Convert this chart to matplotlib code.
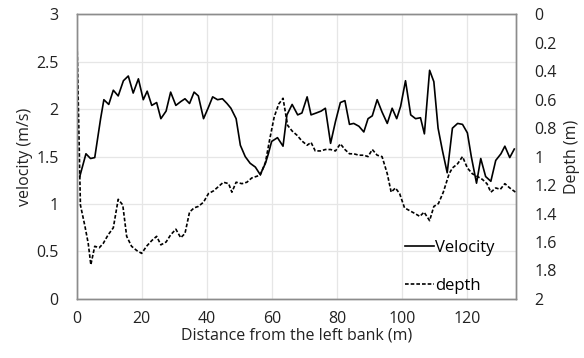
import matplotlib
matplotlib.use("Agg")
import matplotlib.pyplot as plt
from matplotlib.lines import Line2D

plt.rcParams['font.family'] = ['Open Sans', 'DejaVu Sans']

# Velocity profile across the section
vel_dist = [1.0, 2.9, 4.3, 5.6, 7.4, 8.4, 9.9, 11.3, 12.8, 14.4, 15.9, 17.4, 19.0,
            20.5, 21.7, 23.1, 24.6, 25.9, 27.5, 28.9, 30.5, 32.0, 33.3, 34.7, 36.1,
            37.4, 39.0, 40.5, 41.8, 43.3, 44.8, 46.2, 47.4, 49.0, 50.3, 51.8, 53.3,
            54.9, 56.4, 58.0, 58.9, 59.9, 61.7, 63.4, 64.6, 66.2, 67.9, 69.2, 70.8,
            72.0, 73.6, 75.1, 76.4, 78.0, 79.5, 81.0, 82.4, 83.8, 85.1, 86.7, 88.2,
            89.5, 90.8, 92.3, 93.8, 95.4, 96.9, 98.3, 99.5, 101.0, 102.6, 104.1,
            105.6, 106.8, 108.4, 109.7, 111.0, 112.3, 113.8, 115.4, 117.0, 118.5,
            120.0, 121.2, 122.8, 124.1, 125.6, 127.2, 128.7, 130.3, 131.5, 133.0, 134.4]
velocity = [1.29, 1.53, 1.48, 1.49, 1.90, 2.10, 2.05, 2.20, 2.14, 2.30, 2.35, 2.17, 2.32,
            2.10, 2.19, 2.04, 2.07, 1.90, 1.98, 2.18, 2.04, 2.08, 2.11, 2.06, 2.18,
            2.14, 1.90, 2.02, 2.13, 2.10, 2.11, 2.06, 2.01, 1.90, 1.62, 1.50, 1.43,
            1.39, 1.31, 1.43, 1.53, 1.66, 1.70, 1.61, 1.94, 2.05, 1.94, 1.96, 2.13,
            1.94, 1.96, 1.98, 2.01, 1.64, 1.87, 2.07, 2.09, 1.84, 1.85, 1.82, 1.76,
            1.90, 1.93, 2.10, 1.97, 1.85, 2.01, 1.90, 2.03, 2.30, 1.94, 1.90,
            1.91, 1.74, 2.41, 2.29, 1.80, 1.57, 1.33, 1.80, 1.85, 1.84,
            1.75, 1.50, 1.22, 1.48, 1.29, 1.24, 1.46, 1.53, 1.61, 1.49, 1.58]

# Water depth across the section
depth_dist = [0.0, 1.2, 2.6, 3.6, 4.4, 5.6, 7.0, 8.2, 9.7, 11.3, 12.8, 14.2, 15.4, 16.9,
              18.5, 20.0, 21.5, 23.1, 24.6, 25.9, 27.5, 28.9, 30.5, 32.0, 33.3, 34.7,
              36.1, 37.4, 39.0, 40.5, 42.1, 43.6, 45.1, 46.7, 47.7, 49.0, 50.8, 52.3,
              53.8, 56.4, 58.0, 59.3, 60.7, 62.1, 63.4, 64.8, 66.2, 67.7, 69.2, 70.8,
              72.0, 73.3, 74.9, 76.4, 78.0, 79.5, 81.0, 82.4, 83.8, 85.1, 86.7, 88.2,
              89.5, 90.8, 92.3, 93.8, 95.4, 96.6, 97.9, 99.2, 100.7, 102.3, 103.9,
              105.4, 106.7, 108.4, 109.7, 111.1, 112.6, 114.4, 115.4, 117.0, 118.5,
              120.0, 121.5, 123.1, 124.6, 126.0, 127.2, 128.7, 130.1, 131.5, 133.0, 134.8]
depth = [0.02, 1.34, 1.49, 1.61, 1.76, 1.63, 1.64, 1.61, 1.55, 1.50, 1.30, 1.34, 1.56, 1.63,
         1.66, 1.68, 1.63, 1.59, 1.56, 1.62, 1.60, 1.55, 1.51, 1.57, 1.54, 1.39,
         1.36, 1.35, 1.32, 1.26, 1.24, 1.21, 1.18, 1.19, 1.25, 1.18, 1.19, 1.18,
         1.15, 1.13, 1.04, 0.88, 0.72, 0.63, 0.59, 0.78, 0.82, 0.85, 0.89, 0.92,
         0.90, 0.96, 0.96, 0.95, 0.95, 0.96, 0.91, 0.95, 0.98, 0.98, 0.99, 0.99,
         1.00, 0.95, 0.99, 1.00, 1.12, 1.25, 1.22, 1.26, 1.36, 1.38, 1.40,
         1.42, 1.39, 1.45, 1.35, 1.33, 1.25, 1.12, 1.08, 1.05, 1.00,
         1.08, 1.12, 1.14, 1.16, 1.19, 1.25, 1.22, 1.23, 1.19, 1.22, 1.25]

x_ticks = [0, 20, 40, 60, 80, 100, 120]
vel_ticks = [0, 0.5, 1, 1.5, 2, 2.5, 3]
vel_labels = ['0', '0.5', '1', '1.5', '2', '2.5', '3']
depth_ticks = [0, 0.2, 0.4, 0.6, 0.8, 1, 1.2, 1.4, 1.6, 1.8, 2]
depth_labels = ['0', '0.2', '0.4', '0.6', '0.8', '1', '1.2', '1.4', '1.6', '1.8', '2']

TXT = '#222222'
FS = 11.5
DASH = (0, (2.2, 1.2))

fig = plt.figure(figsize=(5.84, 3.58), dpi=100)
ax = fig.add_axes([0.131, 0.165, 0.753, 0.795])
ax2 = ax.twinx()

ax.plot(vel_dist, velocity, color='black', lw=1.2)
ax2.plot(depth_dist, depth, color='black', lw=1.2, ls=DASH)

ax.set_xlim(0, 135)
ax.set_ylim(0, 3)
ax2.set_ylim(2, 0)
ax.set_xticks(x_ticks)
ax.set_xticklabels([str(t) for t in x_ticks])
ax.set_yticks(vel_ticks)
ax.set_yticklabels(vel_labels)
ax2.set_yticks(depth_ticks)
ax2.set_yticklabels(depth_labels)

ax.grid(True, color='#e6e6e6', lw=0.9)
ax.set_axisbelow(True)
for a in (ax, ax2):
    for s in a.spines.values():
        s.set_color('#8c8c8c')
        s.set_linewidth(1.0)
    a.tick_params(length=0, labelsize=FS, colors=TXT)
ax.tick_params(axis='y', pad=13)
ax.tick_params(axis='x', pad=9)
ax2.tick_params(axis='y', pad=13)

ax.set_xlabel('Distance from the left bank (m)', fontsize=FS, color=TXT, labelpad=0)
ax.set_ylabel('velocity (m/s)', fontsize=FS, color=TXT, labelpad=2)
ax2.set_ylabel('Depth (m)', fontsize=FS, color=TXT, labelpad=5)

handles = [Line2D([], [], color='black', lw=1.2),
           Line2D([], [], color='black', lw=1.2, ls=DASH)]
ax.legend(handles, ['Velocity', 'depth'], loc='lower right', frameon=False,
          fontsize=12, handlelength=1.75, handletextpad=0.05, labelspacing=1.3,
          bbox_to_anchor=(0.985, -0.035))

fig.savefig('out.png', dpi=100)
